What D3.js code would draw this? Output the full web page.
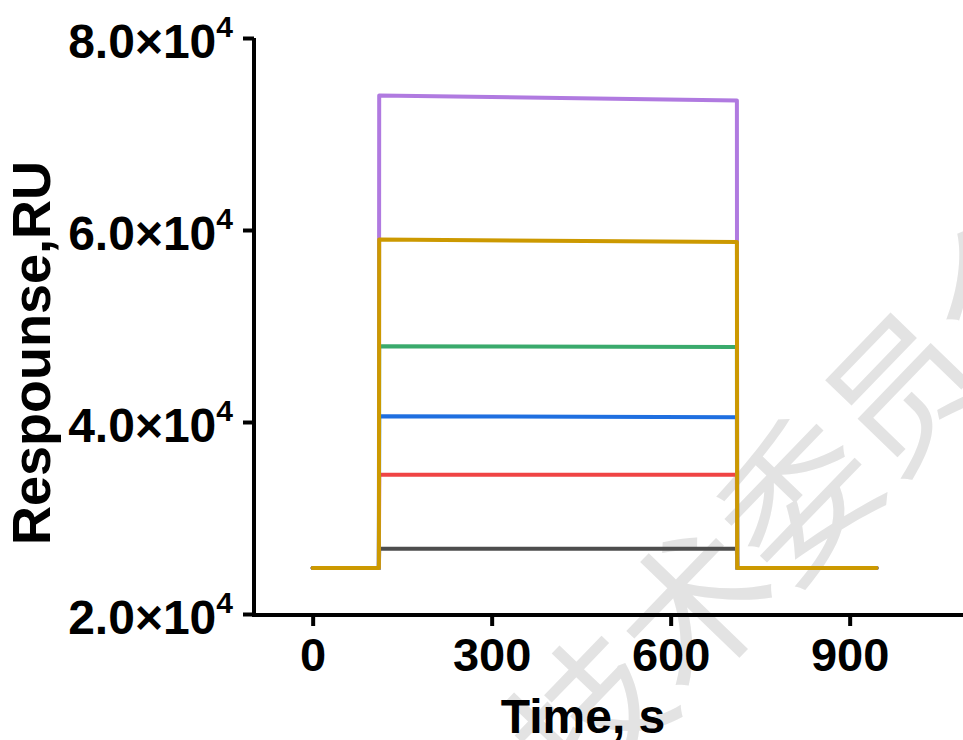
<!DOCTYPE html>
<html>
<head>
<meta charset="utf-8">
<script src="https://cdn.jsdelivr.net/npm/d3@7"></script>
<style>
  html, body { margin: 0; padding: 0; background: #fff; }
  svg { display: block; }
  text { font-family: "Liberation Sans", Arial, sans-serif; font-weight: bold; fill: #000; }
</style>
</head>
<body>
<svg id="chart" width="963" height="740"></svg>
<script>
// ---- data ----
const timePoints = [0, 111, 111.5, 711, 711.5, 945];
const seriesNames = ["s1", "s2", "s3", "s4", "s5", "s6"];
const seriesColors = ["#4d4d4d", "#f04444", "#1f6fe0", "#3aaa6c", "#b07ae0", "#cc9900"];
const s1 = [24800, 24800, 26800, 26800, 24800, 24800];
const s2 = [24800, 24800, 34500, 34500, 24800, 24800];
const s3 = [24800, 24800, 40600, 40500, 24800, 24800];
const s4 = [24800, 24800, 47900, 47800, 24800, 24800];
const s5 = [24800, 24800, 74000, 73500, 24800, 24800];
const s6 = [24800, 24800, 59000, 58750, 24800, 24800];
const seriesValues = [s1, s2, s3, s4, s5, s6];
const xTicks = [0, 300, 600, 900];
const yTicks = [20000, 40000, 60000, 80000];
const yTickLabels = ["2.0×10", "4.0×10", "6.0×10", "8.0×10"];
const yTickExp = ["4", "4", "4", "4"];
const xTitle = "Time, s";
const yTitle = "Respounse,RU";
const watermark = "技术委员会";

// ---- layout ----
const svg = d3.select("#chart");
const x = d3.scaleLinear().domain([-100, 1100]).range([253, 969]);
const y = d3.scaleLinear().domain([20000, 80000]).range([614, 38]);

// watermark
svg.append("text")
  .attr("transform", "translate(792,492) rotate(-46)")
  .attr("text-anchor", "middle")
  .attr("dominant-baseline", "central")
  .style("font-family", "'Noto Sans CJK SC', sans-serif")
  .style("font-weight", "normal")
  .style("font-size", "150px")
  .style("fill", "#e3e3e3")
  .text(watermark);

// lines
const line = d3.line()
  .x((d, i) => x(timePoints[i]))
  .y(d => y(d));

const g = svg.append("g");
seriesValues.forEach((vals, k) => {
  g.append("path")
    .datum(vals)
    .attr("d", line)
    .attr("fill", "none")
    .attr("stroke", seriesColors[k])
    .attr("stroke-width", 4)
    .attr("stroke-linejoin", "round")
    .attr("stroke-linecap", "round");
});

// axes
const xAxis = d3.axisBottom(x).tickValues(xTicks).tickSize(11).tickPadding(12).tickFormat(d3.format("d"));
const xg = svg.append("g").attr("transform", "translate(0,615)").call(xAxis);
xg.select(".domain").attr("stroke", "#000").attr("stroke-width", 4).attr("d", `M${x.range()[0]},0H${x.range()[1]}`);
xg.selectAll(".tick line").attr("stroke", "#000").attr("stroke-width", 4);
xg.selectAll(".tick text")
  .style("font-size", "47px").style("font-family", "'Liberation Sans', Arial, sans-serif").style("font-weight", "bold")
  .attr("dy", "0.71em");

const yAxis = d3.axisLeft(y).tickValues(yTicks).tickSize(11).tickFormat(() => "");
const yg = svg.append("g").attr("transform", "translate(254,0)").call(yAxis);
yg.select(".domain").attr("stroke", "#000").attr("stroke-width", 4).attr("d", `M0,${y.range()[1]}V${617}`);
yg.selectAll(".tick line").attr("stroke", "#000").attr("stroke-width", 4);
yg.selectAll(".tick").each(function(d, i) {
  const t = d3.select(this).append("text")
    .attr("x", -21)
    .attr("y", 19)
    .attr("text-anchor", "end")
    .style("font-size", "48px");
  t.append("tspan").text(yTickLabels[i]);
  t.append("tspan").attr("dy", -21).style("font-size", "30px").text(yTickExp[i]);
});

// titles
svg.append("text")
  .attr("x", 583).attr("y", 733)
  .attr("text-anchor", "middle")
  .style("font-size", "48px")
  .text(xTitle);

svg.append("text")
  .attr("transform", "translate(50,353) rotate(-90)")
  .attr("text-anchor", "middle")
  .style("font-size", "54px")
  .text(yTitle);
</script>
</body>
</html>
